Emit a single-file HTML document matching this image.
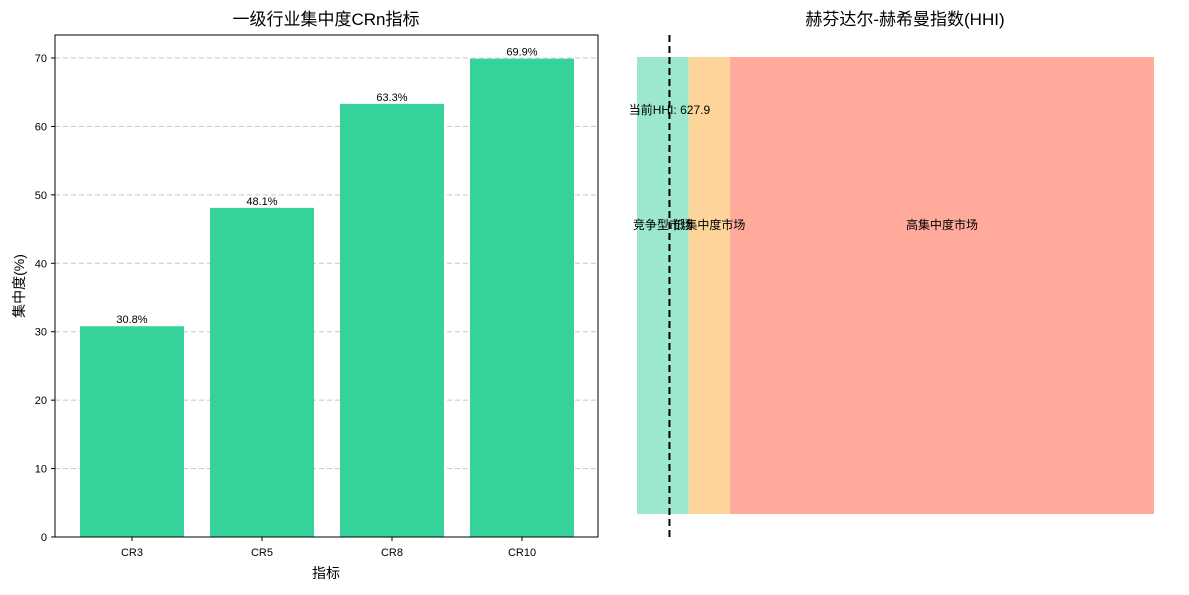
<!DOCTYPE html>
<html><head><meta charset="utf-8"><style>
body{margin:0;background:#fff}
svg{font-family:"Liberation Sans","WenQuanYi Zen Hei","Noto Sans CJK SC",sans-serif}
</style></head><body>
<svg id="c" width="1189" height="590" xmlns="http://www.w3.org/2000/svg"></svg>
<script>
const categories=["CR3","CR5","CR8","CR10"];
const crValues=[30.8,48.1,63.3,69.9];
const yTicks=[0,10,20,30,40,50,60,70];
const hhiValue=627.9;
const zoneStarts=[0,1000,1800];
const zoneEnds=[1000,1800,10000];
const zoneLabels=["竞争型市场","低集中度市场","高集中度市场"];
const zoneColors=["#9be8cc","#fdd49a","#ffaa9a"];
const NS="http://www.w3.org/2000/svg";
const svg=document.getElementById('c');
function mk(t,a,p){const e=document.createElementNS(NS,t);for(const k in a)e.setAttribute(k,a[k]);(p||svg).appendChild(e);return e;}
// left chart
const L={x0:55,x1:598,y0:35,y1:537};
const yS=v=>537-v*(537-58)/70;
const bandW=130, xS=i=>132+i*bandW;
const g1=mk('g',{});


yTicks.forEach(t=>{
  if(t>0){const gl=mk('line',{x1:L.x0,x2:L.x1,y1:yS(t),y2:yS(t),stroke:'#c8c8c8','stroke-dasharray':'5,3','stroke-width':1},g1);
  }
  const tk=mk('line',{x1:L.x0-4,x2:L.x0,y1:yS(t),y2:yS(t),stroke:'#000'},g1);
  
  const tl=mk('text',{x:L.x0-8,y:yS(t)+4,'text-anchor':'end','font-size':11},g1);tl.textContent=t;
  
});
categories.forEach((c,i)=>{
  const b=mk('rect',{x:xS(i)-52,width:104,y:yS(crValues[i]),height:537-yS(crValues[i]),fill:'#35d399'},g1);
  
  const v=mk('text',{x:xS(i),y:yS(crValues[i])-3,'text-anchor':'middle','font-size':11},g1);v.textContent=crValues[i].toFixed(1)+'%';
  
  const tk=mk('line',{x1:xS(i),x2:xS(i),y1:537,y2:541,stroke:'#000'},g1);
  
  const tl=mk('text',{x:xS(i),y:556,'text-anchor':'middle','font-size':11},g1);tl.textContent=c;
  
});
const fr=mk('rect',{x:L.x0,y:L.y0,width:L.x1-L.x0,height:L.y1-L.y0,fill:'none',stroke:'#000','stroke-width':1},g1);

let t=mk('text',{x:326,y:25,'text-anchor':'middle','font-size':17},g1);t.textContent='一级行业集中度CRn指标';

t=mk('text',{x:326,y:578,'text-anchor':'middle','font-size':14},g1);t.textContent='指标';

t=mk('text',{x:24,y:286,'text-anchor':'middle','font-size':14,transform:'rotate(-90 24 286)'},g1);t.textContent='集中度(%)';

// right chart
const hS=v=>637+v*(1154-637)/10000;
const g2=mk('g',{});


zoneStarts.forEach((s,i)=>{
  const r=mk('rect',{x:hS(s),width:hS(zoneEnds[i])-hS(s),y:57,height:457,fill:zoneColors[i]},g2);
  
});
zoneStarts.forEach((s,i)=>{
  const l=mk('text',{x:hS((s+zoneEnds[i])/2),y:229,'text-anchor':'middle','font-size':12},g2);l.textContent=zoneLabels[i];
  
});
const dl=mk('line',{x1:hS(hhiValue),x2:hS(hhiValue),y1:35,y2:537,stroke:'#000','stroke-width':2,'stroke-dasharray':'7,4'},g2);

t=mk('text',{x:hS(hhiValue),y:114,'text-anchor':'middle','font-size':12},g2);t.textContent='当前HHI: '+hhiValue.toFixed(1);

t=mk('text',{x:905,y:25,'text-anchor':'middle','font-size':17},g2);t.textContent='赫芬达尔-赫希曼指数(HHI)';

</script>
</body></html>
